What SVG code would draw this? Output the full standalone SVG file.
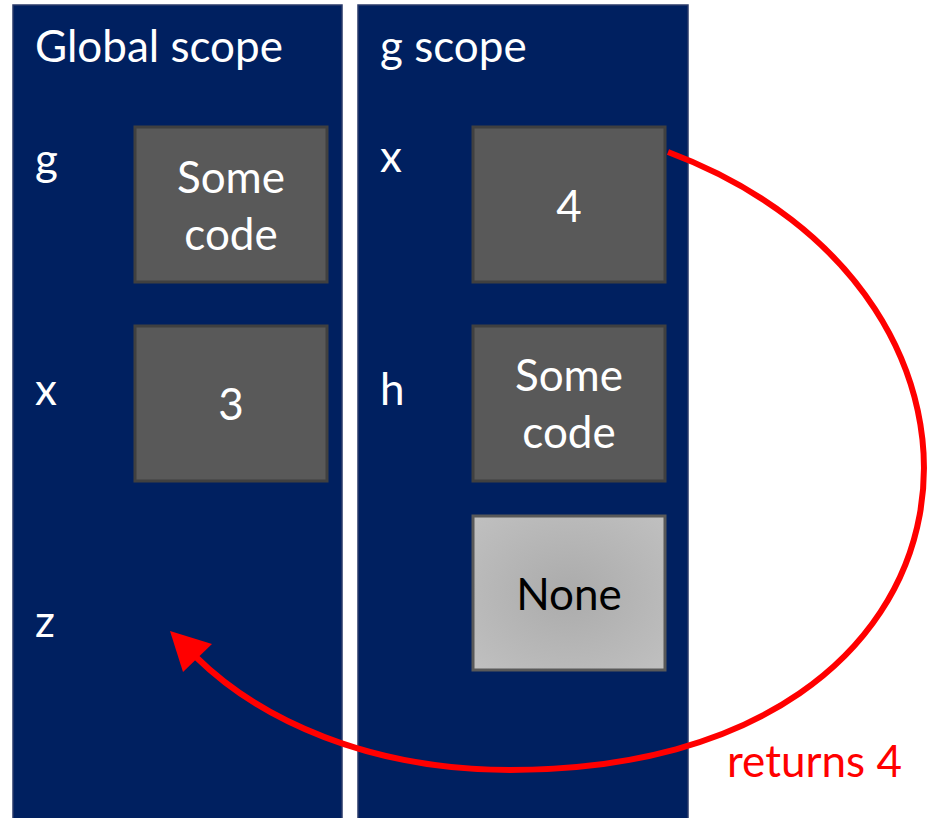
<svg xmlns="http://www.w3.org/2000/svg" width="932" height="818" viewBox="0 0 932 818">
<style>
.panel{fill:#002060;stroke:#2a3a6a;stroke-width:1.5}
.box{fill:#595959;stroke:#404040;stroke-width:3}
.t{font-family:Lato,"Open Sans","Liberation Sans",sans-serif;font-size:44px;fill:#fff}
.c{text-anchor:middle}
</style>
<defs>
<radialGradient id="g1" cx="0.5" cy="0.5" r="0.7">
<stop offset="0" stop-color="#ababab"/>
<stop offset="1" stop-color="#c0c0c0"/>
</radialGradient>
</defs>
<g id="global-scope">
<rect class="panel" x="13" y="5" width="329" height="830"/>
<text class="t" x="35" y="62">Global scope</text>
<text class="t" x="35" y="175">g</text>
<text class="t" x="35" y="405">x</text>
<text class="t" x="35" y="637">z</text>
</g>
<g id="g-scope">
<rect class="panel" x="358" y="5" width="330" height="830"/>
<text class="t" x="380" y="62">g scope</text>
<text class="t" x="380" y="172">x</text>
<text class="t" x="380" y="405">h</text>
</g>
<g id="global-g">
<rect class="box" x="135" y="127" width="192" height="155"/>
<text class="t c" x="231" y="193">Some</text>
<text class="t c" x="231" y="250">code</text>
</g>
<g id="global-x">
<rect class="box" x="135" y="326" width="192" height="155"/>
<text class="t c" x="231" y="420">3</text>
</g>
<g id="g-x">
<rect class="box" x="473" y="127" width="192" height="155"/>
<text class="t c" x="569" y="222">4</text>
</g>
<g id="g-h">
<rect class="box" x="473" y="326" width="192" height="155"/>
<text class="t c" x="569" y="391">Some</text>
<text class="t c" x="569" y="448">code</text>
</g>
<g id="none">
<rect x="473" y="516" width="192" height="154" fill="url(#g1)" stroke="#595959" stroke-width="3"/>
<text class="t c" x="569" y="610" style="fill:#000">None</text>
</g>
<g id="connectors">
<path d="M668,152 C1050,295 1010,770 510,770 C370,770 260,720 196,657" fill="none" stroke="#ff0000" stroke-width="6"/>
<path d="M170,631 L212,644 L183,672 Z" fill="#ff0000"/>
</g>
<text class="t" x="727" y="777" style="fill:#ff0000">returns 4</text>
</svg>
